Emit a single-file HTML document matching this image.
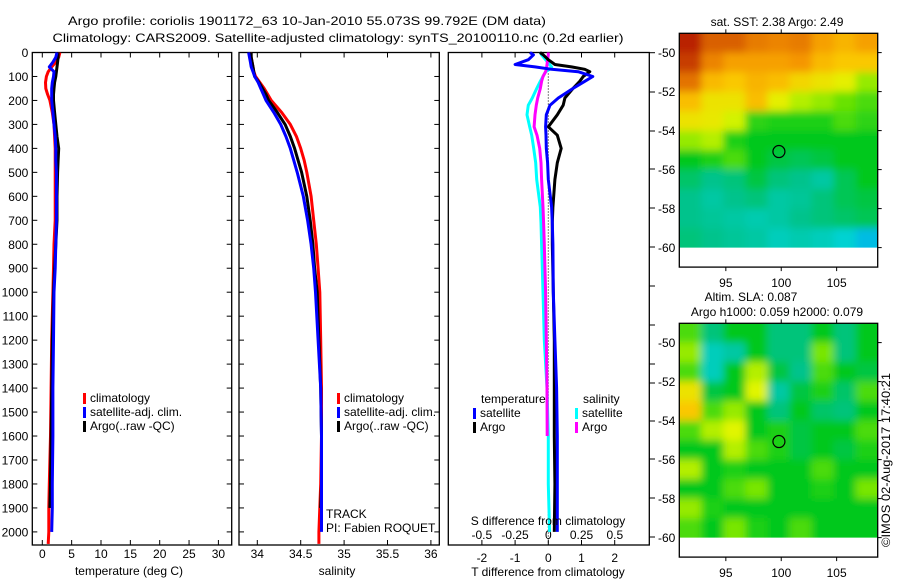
<!DOCTYPE html>
<html><head><meta charset="utf-8">
<style>
html,body{margin:0;padding:0;background:#fff;}
svg{display:block;font-family:"Liberation Sans",sans-serif;}
text{font-size:12px;fill:#000;}
</style></head>
<body>
<svg id="fig" xmlns="http://www.w3.org/2000/svg" width="900" height="580" viewBox="0 0 900 580">
<text x="307" y="25" text-anchor="middle" textLength="478" lengthAdjust="spacingAndGlyphs">Argo profile: coriolis 1901172_63 10-Jan-2010 55.073S 99.792E (DM data)</text>
<text x="338" y="42" text-anchor="middle" textLength="571" lengthAdjust="spacingAndGlyphs">Climatology: CARS2009. Satellite-adjusted climatology: synTS_20100110.nc (0.2d earlier)</text>
<g id="p1"></g>
<g id="p2"></g>
<g id="p3"></g>
<g id="m1"></g>
<g id="m2"></g>
<text x="0" y="0" transform="translate(890,460) rotate(-90)" text-anchor="middle" textLength="174" lengthAdjust="spacingAndGlyphs">©IMOS 02-Aug-2017 17:40:21</text>
</svg>
<script>
// ---- data ----
const tempDepth = [0,20,40,60,80,100,125,150,175,200,250,300,350,400,450,500,600,700,800,900,1000,1200,1400,1600,1800,1900,2000,2050];
const climT = [3.0,2.8,2.3,1.6,1.0,0.7,0.55,0.6,0.9,1.3,1.7,2.0,2.1,2.2,2.2,2.2,2.2,2.2,2.0,1.9,1.8,1.6,1.5,1.4,1.2,1.1,1.1,1.0];
const satT = [2.5,2.3,1.8,1.2,2.0,1.9,1.7,1.6,1.6,1.6,1.8,2.0,2.2,2.3,2.3,2.4,2.4,2.4,2.3,2.2,2.0,1.9,1.8,1.8,1.7,1.7,1.6,null];
const argoT = [2.7,2.7,2.6,2.5,2.4,2.3,2.1,2.0,1.9,1.9,2.1,2.3,2.5,2.8,2.7,2.6,2.5,2.5,2.3,2.1,1.9,1.7,1.6,1.5,1.4,1.3,null,null];
const climS = [33.92,33.93,33.94,33.95,33.96,33.98,34.03,34.08,34.12,34.16,34.28,34.38,34.45,34.50,34.54,34.57,34.62,34.65,34.68,34.70,34.72,34.73,34.74,34.74,34.73,34.72,34.71,34.71];
const satS = [33.90,33.91,33.92,33.93,33.95,33.97,34.01,34.04,34.07,34.10,34.19,34.27,34.33,34.38,34.42,34.46,34.53,34.58,34.62,34.65,34.67,34.70,34.73,34.74,34.74,34.74,34.74,null];
const argoS = [33.93,33.93,33.94,33.95,33.96,33.97,34.02,34.06,34.10,34.13,34.23,34.32,34.38,34.43,34.47,34.51,34.57,34.61,34.64,34.66,34.69,34.71,34.73,34.74,34.74,34.73,null,null];
const diffDepth = [0,10,30,50,60,70,80,100,120,150,190,220,260,310,345,400,460,530,645,710,800,1000,1200,1400,1600,1800,2000];
const satTd = [-0.55,-0.45,-0.6,-1.0,-0.4,0.1,0.9,1.34,1.1,0.74,0.3,0.05,-0.06,-0.08,-0.07,-0.06,-0.02,0.0,0.1,0.12,0.14,0.15,0.2,0.25,0.27,0.27,0.27];
const argoTd = [-0.25,-0.15,0.0,0.2,0.7,1.1,1.25,1.05,0.95,0.74,0.5,0.45,0.27,0.0,0.27,0.39,0.27,0.2,0.14,0.12,0.12,0.15,0.18,0.18,0.18,0.2,0.18];
const satSd = [-0.06,-0.05,-0.02,0.01,0.025,0.01,-0.02,-0.04,-0.06,-0.087,-0.12,-0.15,-0.16,-0.14,-0.125,-0.11,-0.095,-0.087,-0.06,-0.055,-0.05,-0.04,-0.03,-0.01,0.0,0.0,0.01];
const argoSd = [0.0,0.0,-0.005,-0.01,-0.012,-0.015,-0.02,-0.04,-0.05,-0.06,-0.08,-0.09,-0.1,-0.107,-0.085,-0.065,-0.055,-0.05,-0.04,-0.035,-0.03,-0.02,-0.015,-0.01,-0.008,null,null];
const depthTicks = [0,100,200,300,400,500,600,700,800,900,1000,1100,1200,1300,1400,1500,1600,1700,1800,1900,2000];
const tempTicks = [0,5,10,15,20,25,30];
const salTicks = [34,34.5,35,35.5,36];
const salTickLabels = ["34","34.5","35","35.5","36"];
const tdTicks = [-2,-1,0,1,2];
const sdTicks = [-0.5,-0.25,0,0.25,0.5];
const latTicks = [-50,-52,-54,-56,-58,-60];
const lonTicks = [95,100,105];
const sstGrid = [
[0.95,0.88,0.88,0.85,0.84,0.85,0.8,0.76,0.8],
[0.92,0.84,0.8,0.8,0.8,0.82,0.75,0.72,0.72],
[0.86,0.75,0.72,0.76,0.74,0.7,0.68,0.66,0.6],
[0.74,0.68,0.68,0.74,0.66,0.62,0.6,0.57,0.55],
[0.68,0.67,0.64,0.53,0.52,0.52,0.52,0.55,0.53],
[0.6,0.62,0.52,0.5,0.5,0.5,0.5,0.5,0.5],
[0.5,0.52,0.55,0.5,0.48,0.47,0.48,0.5,0.5],
[0.46,0.44,0.45,0.48,0.45,0.44,0.42,0.47,0.5],
[0.44,0.42,0.44,0.45,0.42,0.43,0.45,0.47,0.48],
[0.44,0.43,0.42,0.41,0.42,0.44,0.45,0.46,0.47],
[0.45,0.44,0.43,0.42,0.40,0.41,0.40,0.38,0.35]];
const slaGrid = [
[0.55,0.45,0.5,0.5,0.45,0.45,0.5,0.45,0.5],
[0.6,0.4,0.42,0.5,0.45,0.45,0.58,0.45,0.5],
[0.55,0.4,0.5,0.62,0.48,0.44,0.55,0.5,0.48],
[0.68,0.48,0.5,0.65,0.42,0.48,0.52,0.46,0.55],
[0.72,0.55,0.6,0.5,0.45,0.5,0.46,0.45,0.5],
[0.55,0.62,0.65,0.5,0.52,0.48,0.5,0.5,0.55],
[0.5,0.5,0.62,0.55,0.52,0.48,0.5,0.48,0.52],
[0.62,0.5,0.52,0.5,0.5,0.5,0.55,0.5,0.5],
[0.5,0.5,0.55,0.58,0.5,0.5,0.52,0.5,0.58],
[0.6,0.52,0.5,0.5,0.5,0.5,0.5,0.5,0.5],
[0.55,0.5,0.58,0.52,0.5,0.55,0.5,0.5,0.5]];
const floatLon = 99.792, floatLat = -55.073;

const NS="http://www.w3.org/2000/svg";
function mk(parent,tag,attrs,txt){const e=document.createElementNS(NS,tag);for(const k in attrs)e.setAttribute(k,attrs[k]);if(txt!==undefined)e.textContent=txt;parent.appendChild(e);return e;}
const Y0=52.5, YS=0.2397;
const yD = d => Y0 + d*YS;
const YB = 545;

function panel(g,x0,x1,xs,xTicks,xLabels,showYLabels){
  const r=mk(g,'rect',{x:x0,y:Y0,width:x1-x0,height:YB-Y0,fill:'none',stroke:'#000','stroke-width':1.3});
  
  
  depthTicks.forEach(d=>{
    const y=yD(d);
    const t1=mk(g,'line',{x1:x0,x2:x0+5,y1:y,y2:y,stroke:'#000'});
    
    
    const t2=mk(g,'line',{x1:x1,x2:x1-5,y1:y,y2:y,stroke:'#000'});
    
    
    if(showYLabels){
      const l=mk(g,'text',{x:x0-4,y:y+4.5,'text-anchor':'end'},String(d));
      
      
    }
  });
  xTicks.forEach((v,i)=>{
    const x=xs(v);
    const a=mk(g,'line',{x1:x,x2:x,y1:Y0,y2:Y0+5,stroke:'#000'});
    
    
    const b=mk(g,'line',{x1:x,x2:x,y1:YB,y2:YB-5,stroke:'#000'});
    
    
    if(xLabels){
      const l=mk(g,'text',{x:x,y:558,'text-anchor':'middle'},xLabels[i]);
      
      
    }
  });
}
function series(g,depths,vals,xs,color,name,w){
  let pts=[];
  depths.forEach((d,i)=>{if(vals[i]!==null&&vals[i]!==undefined)pts.push(xs(vals[i]).toFixed(1)+','+yD(d).toFixed(1));});
  const p=mk(g,'polyline',{points:pts.join(' '),fill:'none',stroke:color,'stroke-width':w||3,'stroke-linejoin':'round'});
  
  
}
function legend(g,x,y,color,label){
  const r=mk(g,'rect',{x:x,y:y-9,width:3,height:11,fill:color});
  
  
  const t=mk(g,'text',{x:x+7,y:y},label);
  
  
}
function label(g,x,y,txt,name,anchor){
  const t=mk(g,'text',{x:x,y:y,'text-anchor':anchor||'middle'},txt);
  
  
}

const p1=document.getElementById('p1');
const xT=v=>42.3+v*5.87;
panel(p1,32.3,231.7,xT,tempTicks,tempTicks.map(String),true);
series(p1,tempDepth,climT,xT,'#ff0000','clim-temperature-line');
series(p1,tempDepth,argoT,xT,'#000000','argo-temperature-line');
series(p1,tempDepth,satT,xT,'#0000ff','sat-temperature-line');
legend(p1,83,402,'#ff0000','climatology');
legend(p1,83,416,'#0000ff','satellite-adj. clim.');
legend(p1,83,430,'#000000','Argo(..raw -QC)');
label(p1,129,575,'temperature (deg C)','x-axis-title-temperature');

const p2=document.getElementById('p2');
const xS=v=>257.3+(v-34)*86.8;
panel(p2,239,439.3,xS,salTicks,salTickLabels,false);
series(p2,tempDepth,climS,xS,'#ff0000','clim-salinity-line');
series(p2,tempDepth,argoS,xS,'#000000','argo-salinity-line');
series(p2,tempDepth,satS,xS,'#0000ff','sat-salinity-line');
legend(p2,337,402,'#ff0000','climatology');
legend(p2,337,416,'#0000ff','satellite-adj. clim.');
legend(p2,337,430,'#000000','Argo(..raw -QC)');
label(p2,326,518,'TRACK','track-label','start');
label(p2,326,532,'PI: Fabien ROQUET','pi-label','start');
label(p2,337,575,'salinity','x-axis-title-salinity');

const p3=document.getElementById('p3');
const xTd=v=>548.3+v*33.2;
const xSd=v=>548.3+v*133;
const fr=mk(p3,'rect',{x:448.3,y:Y0,width:201,height:YB-Y0,fill:'none',stroke:'#000','stroke-width':1.3});


tdTicks.forEach(v=>{
  const x=xTd(v);
  const a=mk(p3,'line',{x1:x,x2:x,y1:Y0,y2:Y0+5,stroke:'#000'});
  
  
  const b=mk(p3,'line',{x1:x,x2:x,y1:YB,y2:YB-5,stroke:'#000'});
  
  
  label(p3,x,562,String(v),'t-diff-tick-label');
});
sdTicks.forEach(v=>{ label(p3,xSd(v),539,String(v),'s-diff-tick-label'); });
[52.7,92,131,169,208,247,286,325,364,383,421,459,498,537].forEach(y=>{
  const t=mk(p3,'line',{x1:649.3,x2:655,y1:y,y2:y,stroke:'#000'});
  
  
});
const zl=mk(p3,'line',{x1:xTd(0),x2:xTd(0),y1:Y0,y2:YB,stroke:'#000','stroke-dasharray':'1,2'});


series(p3,diffDepth,satSd,xSd,'#00ffff','sat-salinity-diff-line');
series(p3,diffDepth,argoSd,xSd,'#ff00ff','argo-salinity-diff-line');
series(p3,diffDepth,argoTd,xTd,'#000000','argo-temperature-diff-line');
series(p3,diffDepth,satTd,xTd,'#0000ff','sat-temperature-diff-line');
label(p3,481,403,'temperature','legend-temperature-heading','start');
legend(p3,473,417,'#0000ff','satellite');
legend(p3,473,431,'#000000','Argo');
label(p3,583,403,'salinity','legend-salinity-heading','start');
legend(p3,575,417,'#00ffff','satellite');
legend(p3,575,431,'#ff00ff','Argo');
label(p3,548,525,'S difference from climatology','s-axis-title');
label(p3,548,576,'T difference from climatology','t-axis-title');

const stops=[[0.30,[0,150,255]],[0.38,[0,210,210]],[0.44,[0,195,140]],[0.5,[0,200,30]],[0.58,[120,230,0]],[0.65,[225,245,0]],[0.72,[250,200,0]],[0.82,[245,150,0]],[0.95,[185,35,0]]];
function cmap(v){
  if(v<=stops[0][0])return 'rgb('+stops[0][1]+')';
  for(let i=1;i<stops.length;i++){if(v<=stops[i][0]){const a=stops[i-1],b=stops[i],t=(v-a[0])/(b[0]-a[0]);return 'rgb('+a[1].map((c,j)=>Math.round(c+(b[1][j]-c)*t)).join(',')+')';}}
  return 'rgb('+stops[stops.length-1][1]+')';
}
function map(id,top,title,grid){
  const g=document.getElementById(id);
  const L=679.3,R=877.7,lon0=90.8,pxLon=11.08;
  const lonX=v=>L+(v-lon0)*pxLon;
  const latY=v=>top+19.3+(-50-v)*19.5;
  const topLat=-49.0;
  const clipId='clip'+id;
  const defs=mk(g,'defs',{});
  const cp=mk(defs,'clipPath',{id:clipId});
  mk(cp,'rect',{x:L,y:latY(topLat),width:R-L,height:latY(-60)-latY(topLat)});
  const f=mk(defs,'filter',{id:'blur'+id,x:'-10%',y:'-10%',width:'120%',height:'120%'});
  mk(f,'feGaussianBlur',{stdDeviation:4});
  const cells=mk(g,'g',{'clip-path':'url(#'+clipId+')'});
  
  
  const inner=mk(cells,'g',{filter:'url(#blur'+id+')'});
  const cw=(R-L)/grid[0].length;
  grid.forEach((row,ri)=>row.forEach((v,ci)=>{
    const y0=latY(topLat-ri), y1=latY(topLat-ri-1);
    let x=L+ci*cw, w=cw, y=y0, h=y1-y0;
    if(ci===0){x-=20;w+=20;} if(ci===row.length-1){w+=20;}
    if(ri===0){y-=20;h+=20;} if(ri===grid.length-1){h+=20;}
    const c=mk(inner,'rect',{x:x,y:y,width:w+0.5,height:h+0.5,fill:cmap(v)});
    
    
  }));
  const fr=mk(g,'rect',{x:L,y:top,width:R-L,height:latY(-61)-top,fill:'none',stroke:'#000','stroke-width':1.3});
  
  
  latTicks.forEach(v=>{
    const y=latY(v);
    const t=mk(g,'line',{x1:R,x2:R+4,y1:y,y2:y,stroke:'#000'});
    
    
    label(g,L-4,y+4.5,String(v),'lat-tick-label','end');
  });
  lonTicks.forEach(v=>{
    const x=lonX(v);
    const a=mk(g,'line',{x1:x,x2:x,y1:top,y2:top-4,stroke:'#000'});
    
    
    const b=mk(g,'line',{x1:x,x2:x,y1:latY(-61),y2:latY(-61)+4,stroke:'#000'});
    
    
    label(g,x,latY(-61)+20,String(v),'lon-tick-label');
  });
  const c=mk(g,'circle',{cx:lonX(floatLon),cy:latY(floatLat),r:6,fill:'none',stroke:'#000','stroke-width':1.2});
  
  
  title.forEach((t,i)=>label(g,t[1],t[2],t[0],'map-title'));
}
map('m1',33.3,[['sat. SST: 2.38 Argo: 2.49',777,26]],sstGrid);
map('m2',323.3,[['Altim. SLA: 0.087',751,301],['Argo h1000: 0.059 h2000: 0.079',777,316]],slaGrid);
</script>
</body></html>
